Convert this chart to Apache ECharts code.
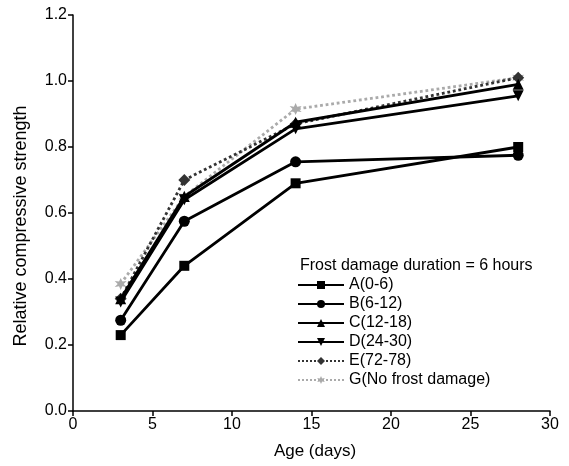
<!DOCTYPE html>
<html><head><meta charset="utf-8">
<script src="https://cdn.jsdelivr.net/npm/echarts@6/dist/echarts.min.js"></script>
<style>html,body{margin:0;padding:0;background:#fff}#c{width:569px;height:466px}</style>
</head><body><div id="c"></div>
<script>
var ages = [3, 7, 14, 28];
var seriesNames = ['A(0-6)', 'B(6-12)', 'C(12-18)', 'D(24-30)', 'E(72-78)', 'G(No frost damage)'];
var A = [0.23, 0.44, 0.69, 0.80];
var B = [0.275, 0.575, 0.755, 0.775];
var C = [0.34, 0.65, 0.875, 0.99];
var D = [0.33, 0.64, 0.855, 0.955];
var E = [0.34, 0.70, 0.87, 1.01];
var G = [0.385, 0.65, 0.915, 1.01];
var xTicks = [0, 5, 10, 15, 20, 25, 30];
var yTicks = [0.0, 0.2, 0.4, 0.6, 0.8, 1.0, 1.2];
var legendTitle = 'Frost damage duration = 6 hours';
var xName = 'Age (days)';
var yName = 'Relative compressive strength';

var star = 'path://M0,-10 L2.5,-4 L9,-5 L4.5,0 L9,5 L2.5,4 L0,10 L-2.5,4 L-9,5 L-4.5,0 L-9,-5 L-2.5,-4 Z';
var styles = [
  {symbol: 'rect', color: '#000', type: 'solid', size: 10},
  {symbol: 'circle', color: '#000', type: 'solid', size: 11},
  {symbol: 'triangle', color: '#000', type: 'solid', size: 11},
  {symbol: 'path://M-5,-4 L5,-4 L0,5 Z', color: '#000', type: 'solid', size: 11},
  {symbol: 'diamond', color: '#333', type: 'dotted', size: 12},
  {symbol: star, color: '#aaa', type: 'dotted', size: 12}
];
var datas = [A, B, C, D, E, G];
var font = 'Liberation Sans, Arial, sans-serif';

var series = datas.map(function (d, i) {
  var s = styles[i];
  return {
    name: seriesNames[i], type: 'line',
    data: d.map(function (v, j) { return [ages[j], v]; }),
    symbol: s.symbol, symbolSize: s.size, showSymbol: true,
    lineStyle: {color: s.color, width: 2.8, type: s.type},
    itemStyle: {color: s.color},
    z: 10 - i
  };
});

var chart = echarts.init(document.getElementById('c'), null, {renderer: 'canvas'});
chart.setOption({
  animation: false,
  backgroundColor: '#fff',
  grid: {left: 73, right: 19, top: 15, bottom: 55},
  xAxis: {
    type: 'value', min: xTicks[0], max: xTicks[xTicks.length - 1], interval: 5,
    axisLine: {lineStyle: {color: '#000', width: 1.5}},
    axisTick: {show: true, inside: false, length: 5, lineStyle: {color: '#000', width: 1.5}},
    axisLabel: {fontFamily: font, fontSize: 16, color: '#000', margin: 6},
    splitLine: {show: false}
  },
  yAxis: {
    type: 'value', min: yTicks[0], max: yTicks[yTicks.length - 1], interval: 0.2,
    axisLine: {show: true, lineStyle: {color: '#000', width: 1.5}},
    axisTick: {show: true, inside: false, length: 5, lineStyle: {color: '#000', width: 1.5}},
    axisLabel: {fontFamily: font, fontSize: 16, color: '#000', margin: 6,
      formatter: function (v) { return v.toFixed(1); }},
    splitLine: {show: false}
  },
  legend: {
    orient: 'vertical', left: 292, top: 272,
    itemWidth: 46, itemHeight: 10, itemGap: 3,
    textStyle: {fontFamily: font, fontSize: 16, lineHeight: 16, color: '#000'},
    data: seriesNames
  },
  graphic: [{
    type: 'text', left: 300, top: 258,
    style: {text: legendTitle, font: '16px Liberation Sans, Arial, sans-serif', fill: '#000'}
  }, {
    type: 'text', x: 21, y: 226, rotation: Math.PI / 2,
    style: {text: yName, font: '18px Liberation Sans, Arial, sans-serif', fill: '#000',
      align: 'center', verticalAlign: 'middle'}
  }, {
    type: 'text', x: 315, y: 451,
    style: {text: xName, font: '17px Liberation Sans, Arial, sans-serif', fill: '#000',
      align: 'center', verticalAlign: 'middle'}
  }],
  series: series
});
</script></body></html>
